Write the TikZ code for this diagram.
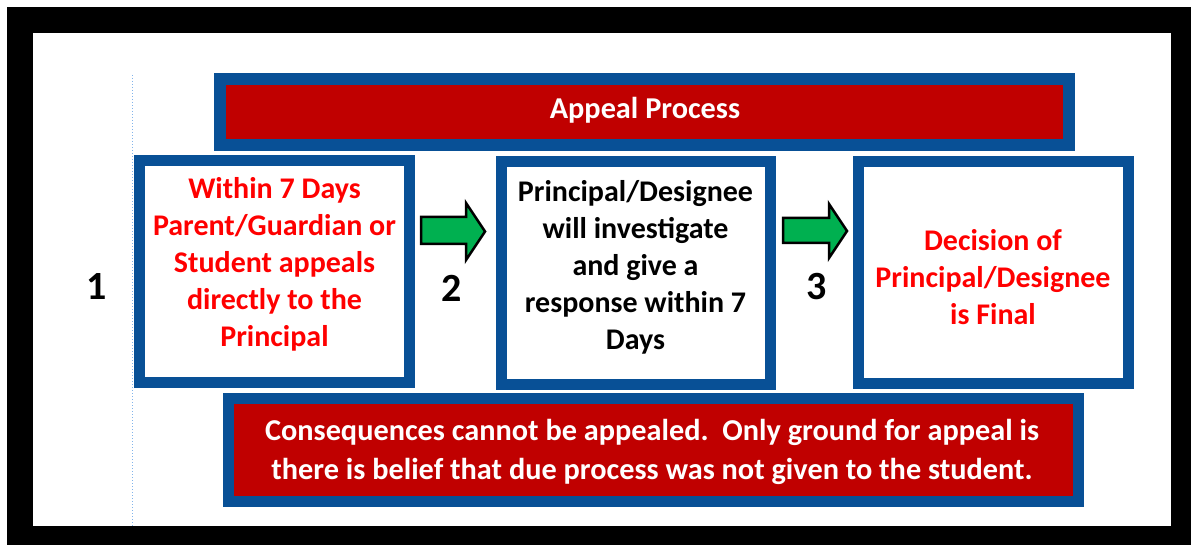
\documentclass[tikz,border=0pt]{standalone}
\usepackage{fontspec}
\setmainfont{Carlito}
\definecolor{boxblue}{RGB}{8,80,150}
\definecolor{boxred}{RGB}{192,0,0}
\definecolor{txtred}{RGB}{255,0,0}
\definecolor{arrgreen}{RGB}{0,176,80}
\definecolor{guide}{RGB}{130,180,235}
\tikzset{
  frame/.style={draw=boxblue, inner sep=0pt, rectangle},
  stepbox/.style={frame, fill=white, line width=11pt},
  bannerbox/.style={frame, fill=boxred},
  boxtext/.style={align=center, inner sep=0pt, font=\fontsize{30}{37}\selectfont\bfseries},
  bantext/.style={align=center, inner sep=0pt, text=white, font=\fontsize{30.3}{39}\selectfont\bfseries},
  numtext/.style={inner sep=0pt, font=\fontsize{40}{40}\selectfont\bfseries},
  blockarrow/.style={fill=arrgreen, draw=black, line width=2.5pt, line join=miter},
}
\begin{document}
\begin{tikzpicture}[x=1pt,y=-1pt]
\useasboundingbox (0,0) rectangle (1191,545);
\fill[white] (0,0) rectangle (1191,545);
\fill[black] (7,7) rectangle (1191,545);
\fill[white] (33,33) rectangle (1171,526);
\draw[guide, line width=1pt, dotted] (132,75) -- (132,526);
% banner
\node[bannerbox, line width=12pt, minimum width=849pt, minimum height=66pt] (top) at (644.5,112) {};
\node[bantext] (toptxt) at (645,110) {Appeal Process};
% step boxes
\node[stepbox, minimum width=270pt, minimum height=222pt] (b1) at (274.5,271.5) {};
\node[stepbox, minimum width=269pt, minimum height=223pt] (b2) at (636,273) {};
\node[stepbox, minimum width=270pt, minimum height=222pt] (b3) at (993.5,272.5) {};
\node[boxtext, text=txtred] (t1) at (274.5,264) {Within 7 Days\\Parent/Guardian or\\Student appeals\\directly to the\\Principal};
\node[boxtext, text=black] (t2) at (635.5,267) {Principal/Designee\\will investigate\\and give a\\response within 7\\Days};
\node[boxtext, text=txtred] (t3) at (993,277) {Decision of\\Principal/Designee\\is Final};
% bottom banner
\node[bannerbox, line width=11pt, minimum width=850pt, minimum height=103pt] (bot) at (653.5,450) {};
\node[bantext] (bottxt) at (652,452) {Consequences cannot be appealed.\ \ Only ground for appeal is\\there is belief that due process was not given to the student.};
% numbers
\node[numtext] (n1) at (97,287) {1};
\node[numtext] (n2) at (452,288) {2};
\node[numtext] (n3) at (817,287) {3};
% arrows
\draw[blockarrow] (421,217) -- (466,217) -- (466,203) -- (485,231.5) -- (466,260) -- (466,244) -- (421,244) -- cycle;
\draw[blockarrow] (783,218) -- (829,218) -- (829,204) -- (847,231) -- (829,258) -- (829,243) -- (783,243) -- cycle;
\end{tikzpicture}
\end{document}
